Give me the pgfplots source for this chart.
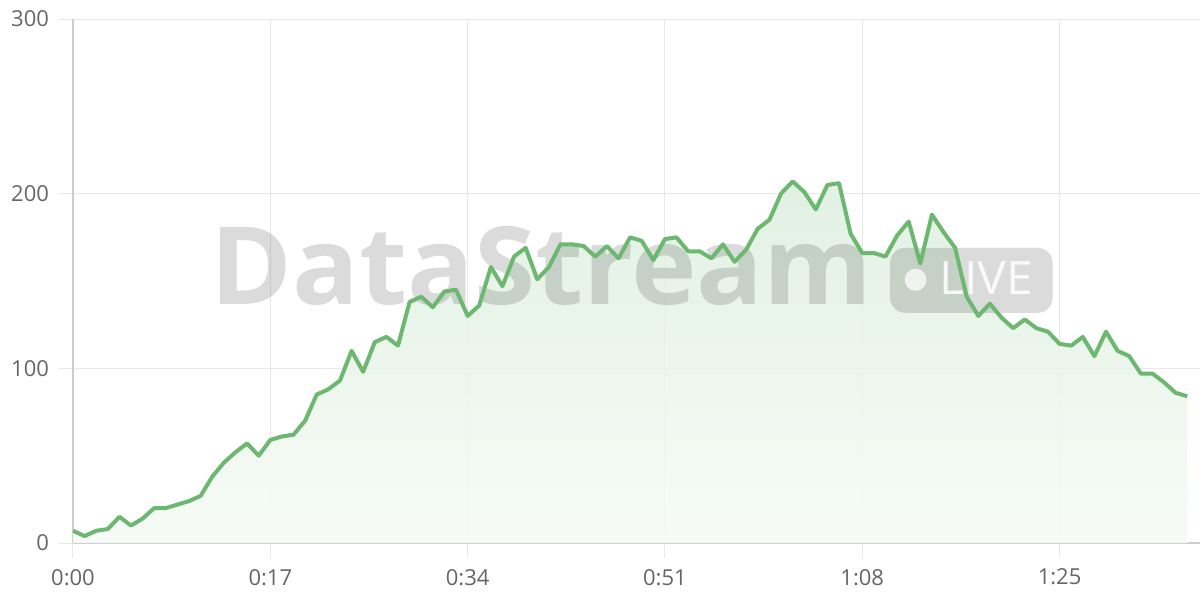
\documentclass[border=0pt]{standalone}
\usepackage{fontspec}
\setmainfont{Open Sans}
\usepackage{pgfplots}
\pgfplotsset{compat=1.18}
\definecolor{lineg}{RGB}{108,184,113}
\definecolor{gridc}{RGB}{232,232,232}
\definecolor{axc}{RGB}{204,204,204}
\definecolor{labc}{RGB}{102,102,102}
\pgfplotstableread{
x y
0 7
1 4
2 7
3 8
4 15
5 10
6 14
7 20
8 20
9 22
10 24
11 27
12 38
13 46
14 52
15 57
16 50
17 59
18 61
19 62
20 70
21 85
22 88
23 93
24 110
25 98
26 115
27 118
28 113
29 138
30 141
31 135
32 144
33 145
34 130
35 136
36 158
37 147
38 164
39 169
40 151
41 158
42 171
43 171
44 170
45 164
46 170
47 163
48 175
49 173
50 162
51 174
52 175
53 167
54 167
55 163
56 171
57 161
58 168
59 180
60 185
61 200
62 207
63 201
64 191
65 205
66 206
67 177
68 166
69 166
70 164
71 176
72 184
73 160
74 188
75 178
76 169
77 141
78 130
79 137
80 129
81 123
82 128
83 123
84 121
85 114
86 113
87 118
88 107
89 121
90 110
91 107
92 97
93 97
94 92
95 86
96 84
}\datatable
\begin{document}
\begin{tikzpicture}
\begin{axis}[
  scale only axis, width=563.5pt, height=262pt,
  xmin=0, xmax=97.1, ymin=0, ymax=300,
  axis x line*=bottom, axis y line*=left,
  x axis line style={axc, line width=0.8pt},
  y axis line style={axc, line width=0.7pt},
  xtick={0,17,34,51,68,85},
  xticklabels={0:00,0:17,0:34,0:51,1:08,1:25},
  ytick={0,100,200,300},
  grid=major, major grid style={gridc, line width=0.5pt},
  tick align=outside, major tick length=7.5pt,
  tick style={gridc, line width=0.5pt},
  ticklabel style={font=\fontsize{11}{13}\selectfont, text=labc},
  /pgf/number format/assume math mode=true,
  yticklabel style={xshift=-1pt},
  xticklabel style={yshift=-2pt},
]
\addplot[draw=none, top color=lineg!22!white, bottom color=lineg!6!white, fill opacity=0.9] table[x=x,y=y]{\datatable} \closedcycle;
\node[anchor=base west, inner sep=0pt, text=black, text opacity=0.14] at (axis cs:11.8,136.4) {\scalebox{1.025}[1]{\fontsize{54}{60}\selectfont\bfseries DataStream}};
\fill[black, fill opacity=0.14, rounded corners=7.5pt] (axis cs:70.4,131.8) rectangle (axis cs:84.4,169);
\fill[white, fill opacity=0.75] (axis cs:72.6,150.7) circle[radius=5.5pt];
\node[anchor=base west, inner sep=0pt, text=white, text opacity=0.85] at (axis cs:74.6,142.1) {\scalebox{1.05}[1]{\fontsize{23}{26}\selectfont LIVE}};
\addplot[lineg, line width=2pt, line join=round, no markers] table[x=x,y=y]{\datatable};
\end{axis}
\pgfresetboundingbox
\path[use as bounding box] (-36.5pt,-28.5pt) rectangle (563.5pt,271.5pt);
\end{tikzpicture}
\end{document}
